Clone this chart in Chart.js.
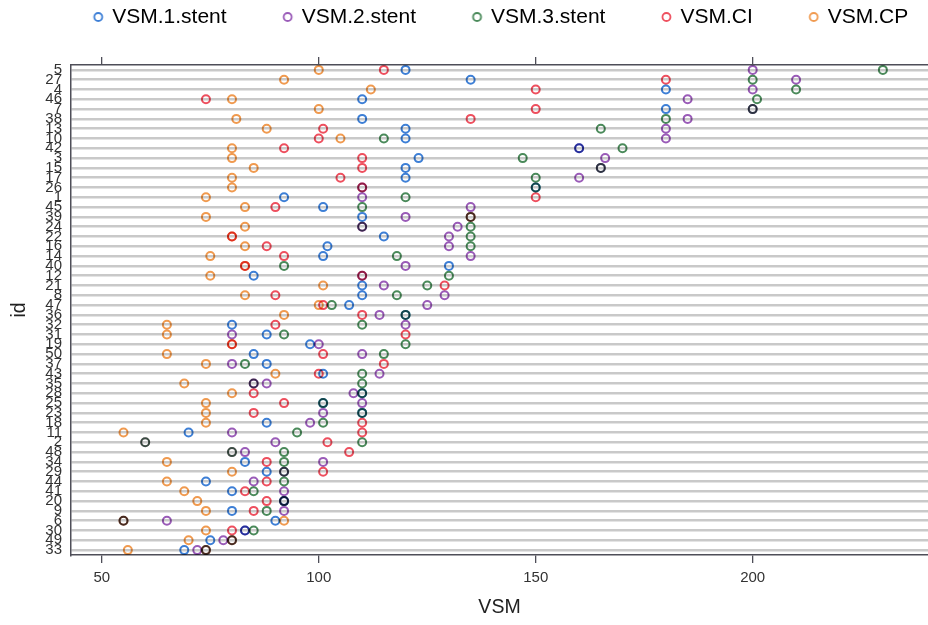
<!DOCTYPE html>
<html>
<head>
<meta charset="utf-8">
<title>VSM by id</title>
<script src="https://cdn.jsdelivr.net/npm/chart.js@4/dist/chart.umd.min.js"></script>
<style>
  html, body { margin: 0; padding: 0; background: #ffffff; }
  canvas { display: block; }
</style>
</head>
<body>
<canvas id="c" width="928" height="625"></canvas>
<script>
// Subject ids, top row first
const ids = ["5","27","4","46","7","38","13","10","42","3","15","17","26","1","45","39","24","22","16","14",
             "40","12","21","8","47","36","32","31","19","50","37","43","35","28","25","23","18","11","2","48",
             "34","29","44","41","20","9","6","30","49","33"];

// VSM per id, same order as ids
const vsm1Stent = [120,135,180,110,180,110,120,120,160,123,120,120,150, 92,101,110,110,115,102,101,
                   130, 85,110,110,107,120, 80, 88, 98, 85, 88,101, 85,110,101,110, 88, 70, 60, 80,
                    83, 88, 74, 80, 92, 80, 90, 83, 75, 69];
const vsm2Stent = [200,210,200,185,200,185,180,180,160,166,165,160,110,110,135,120,132,130,130,135,
                   120,110,115,129,125,114,120, 80,100,110, 80,114, 88,108,110,101, 98, 80, 90, 83,
                   101, 92, 85, 92, 92, 92, 65, 83, 78, 72];
const vsm3Stent = [230,200,210,201,200,180,165,115,170,147,165,150,150,120,110,135,135,135,135,118,
                    92,130,125,118,103,120,110, 92,120,115, 83,110,110,110,101,110,101, 95,110, 92,
                    92, 92, 92, 85, 92, 88, 55, 85, 80, 74];
const vsmCI     = [115,180,150, 74,150,135,101,100, 92,110,110,105,110,150, 90,135,110, 80, 88, 92,
                    83,110,129, 90,101,110, 90,120, 80,101,115,100, 85, 85, 92, 85,110,110,102,107,
                    88,101, 88, 83, 88, 85, 55, 80, 80, 74];
const vsmCP     = [100, 92,112, 80,100, 81, 88,105, 80, 80, 85, 80, 80, 74, 83, 74, 83, 80, 83, 75,
                    83, 75,101, 83,100, 92, 65, 65, 80, 65, 74, 90, 69, 80, 74, 74, 74, 55, 60, 80,
                    65, 80, 65, 69, 72, 74, 92, 74, 70, 56];

const seriesNames = ["VSM.1.stent", "VSM.2.stent", "VSM.3.stent", "VSM.CI", "VSM.CP"];
const seriesValues = [vsm1Stent, vsm2Stent, vsm3Stent, vsmCI, vsmCP];
const seriesColors = ["#3d7fd6", "#9a5bb8", "#4a8a5a", "#ee4f5e", "#f09a4f"];

const xTicks = [50, 100, 150, 200];
const xMin = 42.9, xMax = 240.4;

Chart.defaults.font.family = "'Liberation Sans', Arial, sans-serif";

// Legend marker: an open ring placed toward the right of a wide box,
// so the gap before each entry is wide while the ring stays close to its text
const LEGEND_BOX = 58, RING_AT = 54.5, LEGEND_SHIFT = 12, MARGIN = 8;
function legendRing(color) {
  const cv = document.createElement('canvas');
  cv.width = LEGEND_BOX + 2 * MARGIN; cv.height = 16;
  const c = cv.getContext('2d');
  c.strokeStyle = color; c.lineWidth = 1.8;
  c.beginPath(); c.arc(RING_AT + MARGIN, 8, 4, 0, Math.PI * 2); c.stroke();
  return cv;
}
const legendMarkers = seriesColors.map(legendRing);

// Overlapping rings darken each other
const multiplyRings = {
  id: 'multiplyRings',
  beforeDatasetsDraw(chart) { chart.ctx.save(); chart.ctx.globalCompositeOperation = 'multiply'; },
  afterDatasetsDraw(chart) { chart.ctx.restore(); }
};

// Nudge the key row to the right of the centred position
const keyOffset = {
  id: 'keyOffset',
  afterLayout(chart) {
    const lg = chart.legend;
    if (lg) { lg.left += LEGEND_SHIFT; lg.right += LEGEND_SHIFT; }
  }
};

const frameColor = '#4e4e58';
const fixedTicks = s => { s.ticks = xTicks.map(v => ({ value: v })); };

new Chart(document.getElementById('c'), {
  type: 'scatter',
  data: {
    datasets: seriesNames.map((name, i) => ({
      label: name,
      data: seriesValues[i].map((v, k) => ({ x: v, y: ids[k] })),
      borderColor: seriesColors[i],
      backgroundColor: 'rgba(0,0,0,0)',
      pointStyle: 'circle',
      pointRadius: 4,
      pointBorderWidth: 2,
      showLine: false
    }))
  },
  options: {
    responsive: false,
    animation: false,
    events: [],
    layout: { padding: 0, autoPadding: false },
    plugins: {
      tooltip: { enabled: false },
      legend: {
        position: 'top',
        labels: {
          usePointStyle: true,
          pointStyleWidth: LEGEND_BOX,
          padding: 6.5,
          color: '#1a1a1a',
          font: { size: 21 },
          generateLabels: chart => chart.data.datasets.map((ds, i) => ({
            text: ds.label,
            pointStyle: legendMarkers[i],
            fillStyle: 'rgba(0,0,0,0)',
            strokeStyle: 'rgba(0,0,0,0)',
            lineWidth: 0,
            hidden: false,
            datasetIndex: i
          }))
        }
      }
    },
    scales: {
      x: {
        type: 'linear', position: 'bottom', min: xMin, max: xMax,
        afterBuildTicks: fixedTicks,
        afterFit: s => { s.height = 70; },
        grid: { drawOnChartArea: false, drawTicks: true, tickLength: 8, color: frameColor, lineWidth: 1.3 },
        border: { display: true, color: frameColor, width: 1.5 },
        ticks: { color: '#333333', font: { size: 15 }, padding: 6, maxRotation: 0 },
        title: { display: true, text: 'VSM', color: '#222222', font: { size: 19.5 }, padding: { top: 0, bottom: 6 } }
      },
      x2: {
        type: 'linear', position: 'top', min: xMin, max: xMax,
        afterBuildTicks: fixedTicks,
        afterFit: s => { s.height = 27.5; },
        grid: { drawOnChartArea: false, drawTicks: true, tickLength: 8, color: frameColor, lineWidth: 1.3 },
        border: { display: true, color: frameColor, width: 1.5 },
        ticks: { display: false }
      },
      y: {
        type: 'category', position: 'left', labels: ids, offset: true,
        afterFit: s => { s.width = 71; },
        grid: { offset: false, drawTicks: false, color: '#c9c9c9', lineWidth: 2.6 },
        border: { display: true, color: frameColor, width: 1.5 },
        ticks: { autoSkip: false, color: '#333333', font: { size: 15 }, padding: 9 },
        title: { display: true, text: 'id', color: '#222222', font: { size: 19.5 }, padding: { top: 8, bottom: 0 } }
      }
    }
  },
  plugins: [multiplyRings, keyOffset]
});
</script>
</body>
</html>
